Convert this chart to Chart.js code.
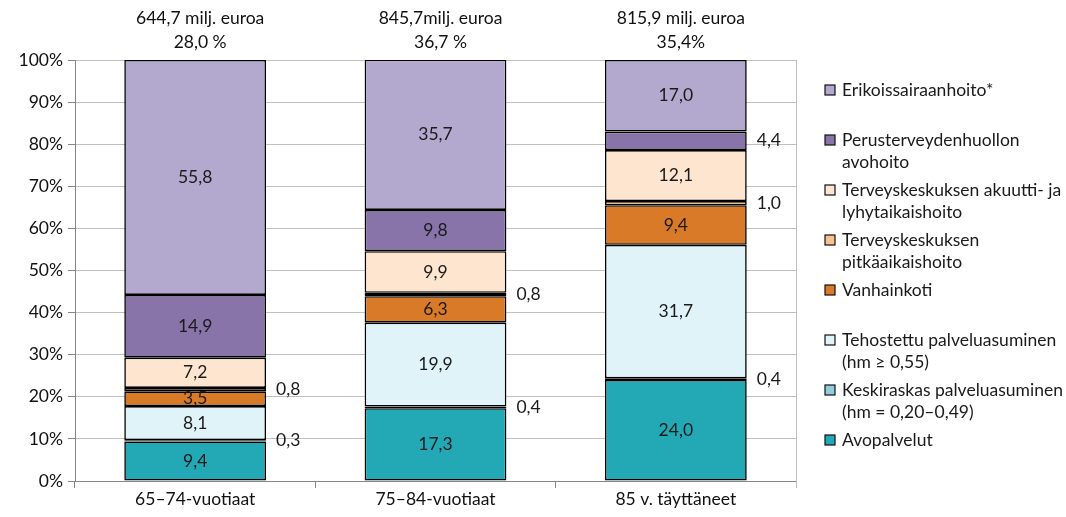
<!DOCTYPE html>
<html>
<head>
<meta charset="utf-8">
<script src="https://cdn.jsdelivr.net/npm/chart.js@4"></script>
<style>
  html, body { margin: 0; padding: 0; background: #fff; }
</style>
</head>
<body>
<canvas id="costChart" width="1066" height="517"></canvas>
<script>
// Categories and headline figures
const categories = ['65\u201374-vuotiaat', '75\u201384-vuotiaat', '85 v. t\u00e4ytt\u00e4neet'];
const totals = ['644,7 milj. euroa', '845,7milj. euroa', '815,9 milj. euroa'];
const shares = ['28,0 %', '36,7 %', '35,4%'];

// Series values (% of costs), bottom of stack first
const avopalvelut = [9.4, 17.3, 24.0];
const keskiraskas = [0.3, 0.4, 0.4];
const tehostettu = [8.1, 19.9, 31.7];
const vanhainkoti = [3.5, 6.3, 9.4];
const pitkaaikais = [0.8, 0.8, 1.0];
const akuutti = [7.2, 9.9, 12.1];
const perusterveys = [14.9, 9.8, 4.4];
const erikois = [55.8, 35.7, 17.0];

// Legend text lines for each series (same order as above)
const legendLines = [
    ['Avopalvelut'],
    ['Keskiraskas palveluasuminen', '(hm = 0,20\u20130,49)'],
    ['Tehostettu palveluasuminen', '(hm \u2265 0,55)'],
    ['Vanhainkoti'],
    ['Terveyskeskuksen', 'pitk\u00e4aikaishoito'],
    ['Terveyskeskuksen akuutti- ja', 'lyhytaikaishoito'],
    ['Perusterveydenhuollon', 'avohoito'],
    ['Erikoissairaanhoito*']
];

const yTicks = [0, 10, 20, 30, 40, 50, 60, 70, 80, 90, 100];

const FONT = 'Lato, "Open Sans", sans-serif';
const FONT_SIZE = 17.5;

const seriesColors = ['#22A9B5', '#93CDDC', '#E0F3F8', '#D97A29', '#F9BF8C', '#FDE5D0', '#8874A9', '#B3A9CE'];
const seriesValues = [avopalvelut, keskiraskas, tehostettu, vanhainkoti, pitkaaikais, akuutti, perusterveys, erikois];

// Small segments get their label beside the bar instead of inside it
function labelOutside(value) {
    return value < 3 || (value > 4 && value < 5);
}

const fmt = v => v.toFixed(1).replace('.', ',');

// Draws value labels, headline texts, the right border and the legend
const extrasPlugin = {
    id: 'extras',
    afterDatasetsDraw(chart) {
        const ctx = chart.ctx;
        const area = chart.chartArea;
        const xScale = chart.scales.x;
        ctx.save();
        ctx.font = FONT_SIZE + 'px ' + FONT;
        ctx.fillStyle = '#1a1a1a';
        ctx.textBaseline = 'middle';

        chart.data.datasets.forEach((ds, di) => {
            const meta = chart.getDatasetMeta(di);
            meta.data.forEach((bar, i) => {
                const v = ds.data[i];
                const midY = (bar.y + bar.base) / 2;
                if (labelOutside(v)) {
                    ctx.textAlign = 'left';
                    ctx.fillText(fmt(v), bar.x + bar.width / 2 + 10, midY);
                } else {
                    ctx.textAlign = 'center';
                    ctx.fillText(fmt(v), bar.x, midY);
                }
            });
        });

        // headline figures above the bars
        ctx.textAlign = 'center';
        ctx.fillStyle = '#111';
        categories.forEach((c, i) => {
            const x = xScale.getPixelForValue(i) + 5;
            ctx.fillText(totals[i], x, area.top - 42);
            ctx.fillText(shares[i], x, area.top - 18);
        });

        // right border of the plot
        ctx.strokeStyle = '#BFBFBF';
        ctx.lineWidth = 1;
        ctx.beginPath();
        ctx.moveTo(Math.round(area.right) + 0.5, area.top);
        ctx.lineTo(Math.round(area.right) + 0.5, area.bottom + 7);
        ctx.stroke();

        // legend, top entry first
        const lx = area.right + 29;
        let ly = area.top + 30;
        ctx.textAlign = 'left';
        for (let k = legendLines.length - 1; k >= 0; k--) {
            ctx.fillStyle = seriesColors[k];
            ctx.fillRect(lx, ly - 5, 10, 10);
            ctx.strokeStyle = '#111';
            ctx.lineWidth = 1.2;
            ctx.strokeRect(lx, ly - 5, 10, 10);
            ctx.fillStyle = '#1a1a1a';
            legendLines[k].forEach((line, j) => {
                ctx.fillText(line, lx + 17, ly + j * 22);
            });
            ly += 50;
        }
        ctx.restore();
    }
};

const datasets = seriesValues.map((vals, i) => ({
    label: legendLines[i].join(' '),
    data: vals,
    backgroundColor: seriesColors[i],
    borderColor: '#000',
    borderWidth: 1.6,
    borderSkipped: false,
    barPercentage: 0.59,
    categoryPercentage: 1.0
}));

new Chart(document.getElementById('costChart'), {
    type: 'bar',
    data: { labels: categories, datasets: datasets },
    options: {
        responsive: false,
        animation: false,
        devicePixelRatio: 1,
        layout: { padding: { top: 60, right: 270, left: 0, bottom: 0 } },
        plugins: {
            legend: { display: false },
            tooltip: { enabled: false }
        },
        scales: {
            x: {
                stacked: true,
                grid: { drawOnChartArea: false, drawTicks: true, tickLength: 7, color: '#868686' },
                border: { color: '#868686' },
                ticks: { color: '#111', font: { family: FONT, size: FONT_SIZE }, padding: 1 },
                afterFit: s => { s.height = 36; }
            },
            y: {
                stacked: true,
                min: 0,
                max: 100,
                afterBuildTicks: s => { s.ticks = yTicks.map(v => ({ value: v })); },
                grid: { color: '#BFBFBF', tickLength: 7, tickColor: '#868686' },
                border: { color: '#868686' },
                ticks: {
                    color: '#111',
                    font: { family: FONT, size: FONT_SIZE },
                    padding: 5,
                    callback: v => v + '%'
                },
                afterFit: s => { s.width = 75; }
            }
        }
    },
    plugins: [extrasPlugin]
});
</script>
</body>
</html>
